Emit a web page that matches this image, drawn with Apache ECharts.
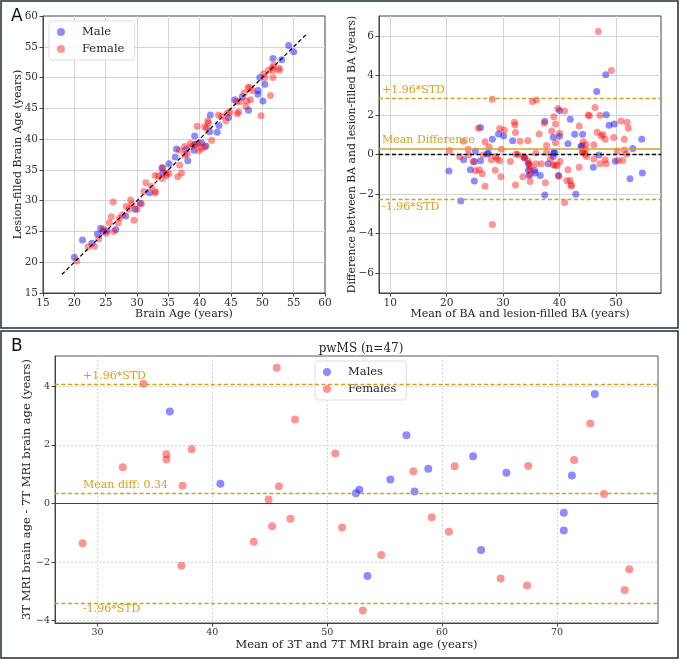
<!DOCTYPE html>
<html>
<head>
<meta charset="utf-8">
<script src="https://cdn.jsdelivr.net/npm/echarts@6/dist/echarts.min.js"></script>
<style>
  html, body { margin: 0; padding: 0; background: #fff; }
  #chart { width: 680px; height: 660px; }
</style>
</head>
<body>
<div id="chart"></div>
<script>
// ---- panel A (left): brain age vs lesion-filled brain age ----
const maleBA = [20.0, 21.3, 22.8, 23.7, 24.2, 24.6, 25.2, 26.6, 28.2, 29.7, 30.5, 32.0, 34.1, 34.0, 35.1, 36.1, 36.3, 37.8, 38.1, 39.2, 39.2, 39.1, 40.3, 41.0, 41.6, 41.7, 42.8, 43.1, 44.6, 45.6, 46.8, 47.8, 49.3, 49.3, 49.6, 50.1, 50.4, 51.7, 53.1, 54.2, 55.0];
const maleLF = [20.8, 23.6, 23.1, 24.6, 25.5, 25.0, 25.1, 25.3, 27.5, 28.6, 29.6, 31.3, 34.5, 35.3, 36.0, 37.1, 38.4, 38.3, 36.5, 40.5, 39.1, 38.2, 39.4, 38.9, 41.2, 43.9, 41.1, 42.2, 43.5, 46.4, 46.9, 44.7, 47.9, 47.3, 50.0, 46.2, 48.9, 53.1, 52.9, 55.2, 54.2];
const femaleBA = [20.4, 22.2, 23.2, 23.9, 24.6, 25.1, 25.6, 25.9, 26.2, 26.3, 27.0, 27.2, 27.7, 28.3, 28.7, 29.0, 29.2, 29.5, 30.0, 30.7, 31.1, 31.4, 32.3, 32.9, 32.9, 32.9, 33.4, 34.0, 34.1, 34.6, 35.1, 34.7, 36.5, 37.1, 36.8, 36.8, 37.6, 37.6, 38.0, 38.5, 38.7, 39.3, 39.6, 39.8, 39.9, 40.3, 40.8, 40.8, 41.1, 41.3, 41.4, 41.9, 43.0, 43.5, 44.2, 44.4, 44.8, 46.0, 46.2, 45.9, 46.5, 47.1, 47.5, 47.4, 47.7, 48.0, 48.1, 48.4, 49.8, 50.2, 50.4, 51.0, 51.3, 51.6, 51.7, 51.8, 51.7, 52.7, 52.7];
const femaleLF = [20.2, 22.5, 22.6, 23.8, 25.4, 24.7, 26.4, 27.4, 29.8, 25.0, 26.4, 27.2, 27.7, 29.1, 28.6, 30.1, 29.4, 26.8, 28.6, 29.5, 31.5, 32.9, 32.3, 31.3, 31.5, 34.1, 34.0, 33.6, 35.4, 34.5, 34.4, 34.1, 33.9, 34.5, 35.8, 38.2, 37.4, 38.8, 37.6, 39.3, 38.8, 39.2, 42.1, 39.3, 38.1, 38.5, 38.7, 42.0, 41.8, 43.0, 42.6, 39.8, 43.9, 43.7, 43.0, 44.2, 44.4, 44.1, 44.4, 46.1, 46.1, 47.5, 46.2, 45.3, 48.4, 48.4, 46.4, 47.9, 43.8, 50.6, 50.0, 51.2, 47.1, 51.6, 51.2, 52.0, 50.0, 51.5, 51.2];
const identityLine = [[18, 18], [57, 57]];

// ---- panel A (right): Bland-Altman ----
const maleMean = [46.6, 48.2, 48.3, 48.8, 49.7, 54.6, 53.0, 52.5, 54.7, 49.9, 47.0, 46.0, 44.0, 44.1, 42.7, 41.9, 41.5, 40.0, 40.0, 38.9, 39.1, 39.0, 38.9, 38.0, 39.8, 37.4, 42.9, 36.6, 35.6, 35.7, 34.5, 34.5, 34.6, 33.8, 31.7, 30.1, 29.2, 28.1, 26.0, 26.0, 25.1, 24.9, 24.9, 24.2, 23.0, 22.5, 20.4, 27.2, 27.4, 37.4, 43.8];
const maleDiff = [3.19, 4.03, 2.01, 1.48, 1.54, 0.77, 0.30, -1.22, -0.93, -0.34, -0.03, -0.64, 0.44, 1.02, 1.02, 1.78, 0.54, 2.23, 0.92, 0.87, 0.12, 0.07, -0.10, -0.47, -1.06, -2.05, -2.01, -1.06, -0.80, -0.94, -0.47, -0.80, -1.06, -0.17, 0.70, 0.94, 1.04, 0.77, 1.36, -0.32, 0.18, -0.35, -1.34, -0.77, -0.27, -2.35, -0.84, 0.03, 0.07, 1.68, 0.40];
const femaleMean = [46.9, 49.2, 28.1, 35.2, 35.9, 46.3, 39.7, 40.9, 45.1, 45.3, 47.2, 37.3, 25.6, 29.4, 30.2, 32.0, 32.1, 38.6, 39.0, 39.3, 32.2, 36.4, 40.0, 43.5, 46.7, 47.4, 47.7, 48.1, 49.6, 50.9, 52.0, 52.2, 51.5, 23.0, 26.8, 27.5, 23.8, 20.5, 29.7, 33.0, 34.4, 39.3, 37.7, 44.2, 44.7, 44.6, 44.1, 46.1, 50.2, 51.5, 51.9, 51.2, 50.4, 47.2, 48.1, 48.3, 46.1, 22.3, 23.9, 24.7, 25.1, 25.8, 26.3, 26.8, 26.5, 27.9, 28.6, 28.7, 28.9, 29.4, 29.6, 28.1, 31.3, 32.2, 32.3, 32.6, 33.6, 33.8, 33.5, 34.4, 34.6, 34.8, 34.8, 34.8, 34.8, 35.8, 35.8, 36.8, 37.5, 37.7, 38.4, 38.9, 39.2, 39.6, 39.9, 40.1, 40.9, 41.5, 41.3, 41.9, 42.1, 42.1, 43.5, 44.1, 44.5, 44.8];
const femaleDiff = [6.22, 4.24, 2.79, 2.68, 2.75, 2.38, 2.32, 2.20, 2.00, 1.96, 1.98, 1.58, 1.33, 1.31, 1.24, 1.63, 1.49, 1.19, 1.91, 1.54, 1.11, 1.04, 1.07, 1.44, 1.12, 0.94, 1.01, 0.77, 0.86, 1.69, 1.63, 1.33, 0.77, 0.67, 0.65, 0.39, 0.27, 0.20, 0.27, 0.67, 0.70, 0.60, 0.45, 0.65, 0.49, 0.23, 0.15, 0.49, 0.18, 0.23, 0.03, -0.30, -0.30, -0.47, -0.27, -0.47, -0.23, -0.12, -0.02, -0.37, -0.82, -0.77, -0.97, -1.60, -0.03, -0.27, -0.80, -0.10, -0.23, -0.32, -1.12, -3.54, -0.35, -1.54, 0.03, 0.00, -0.10, -0.15, -1.12, -0.32, -0.47, -0.60, -0.77, -1.00, -1.36, 0.07, -0.47, -0.47, -1.43, 0.10, -0.23, -0.52, -0.55, -0.55, -1.10, -0.35, -2.42, -0.77, -1.33, -1.31, -1.53, -1.60, -0.65, 0.13, 0.02, -0.10];
const meanDiffA = 0.28;
const upperA = 2.84;
const lowerA = -2.28;

// ---- panel B: pwMS 3T vs 7T ----
const pwMaleMean = [36.3, 40.7, 52.5, 52.8, 55.5, 56.9, 57.6, 58.8, 62.7, 65.6, 71.3, 73.3, 53.5, 63.4, 70.6, 70.6];
const pwMaleDiff = [3.14, 0.67, 0.35, 0.47, 0.82, 2.33, 0.41, 1.18, 1.61, 1.05, 0.95, 3.73, -2.48, -1.59, -0.32, -0.92];
const pwFemaleMean = [28.7, 32.2, 34.0, 36.0, 36.0, 37.4, 37.3, 38.2, 43.6, 44.9, 45.2, 45.6, 45.8, 46.8, 47.2, 50.7, 51.3, 57.5, 61.1, 67.5, 71.5, 72.9, 74.1, 59.1, 60.6, 54.7, 53.1, 65.1, 67.4, 76.3, 75.9];
const pwFemaleDiff = [-1.36, 1.23, 4.08, 1.68, 1.50, 0.60, -2.13, 1.85, -1.31, 0.13, -0.78, 4.63, 0.59, -0.52, 2.86, 1.70, -0.82, 1.10, 1.27, 1.28, 1.48, 2.73, 0.32, -0.47, -0.97, -1.76, -3.65, -2.56, -2.80, -2.25, -2.95];
const meanDiffB = 0.34;
const upperB = 4.07;
const lowerB = -3.39;

const SERIF = 'DejaVu Serif';
const GOLD = '#d4a020';
const BLUE = '#0000ff';
const RED = '#ff0000';

const zip = (xs, ys) => xs.map((x, i) => [x, ys[i]]);
const minus = v => String(v).replace('-', '\u2212');

function makeAxis(gridIndex, opts) {
  return {
    type: 'value',
    gridIndex,
    min: opts.min,
    max: opts.max,
    interval: opts.interval,
    splitNumber: opts.splitNumber,
    name: opts.name,
    nameLocation: 'middle',
    nameGap: opts.nameGap,
    nameMoveOverlap: false,
    nameTextStyle: { fontFamily: SERIF, fontSize: opts.nameSize || 11, color: '#222' },
    axisLine: { show: true, onZero: false, lineStyle: { color: '#444', width: 1 } },
    axisTick: { show: true, length: 3.5, lineStyle: { color: '#444' } },
    axisLabel: {
      fontFamily: SERIF, fontSize: opts.labelSize || 10.5, color: '#333', margin: 5,
      showMinLabel: opts.showEnds, showMaxLabel: opts.showEnds,
      formatter: minus
    },
    splitLine: {
      show: true, showMinLine: false, showMaxLine: false,
      lineStyle: { color: '#d4d4d4', width: 1, type: opts.dotted ? [2, 2] : 'solid' }
    }
  };
}

function scatter(name, xi, data, color, size, opacity) {
  return {
    name, type: 'scatter', xAxisIndex: xi, yAxisIndex: xi,
    data, symbolSize: size,
    itemStyle: { color, opacity },
    emphasis: { disabled: true }
  };
}

function limitLine(value, style, labelText, pos, dist) {
  return {
    yAxis: value,
    lineStyle: style,
    label: labelText ? {
      show: true, formatter: labelText, position: pos, distance: dist,
      color: GOLD, fontFamily: SERIF, fontSize: 11
    } : { show: false }
  };
}

const chart = echarts.init(document.getElementById('chart'));

const goldDash = { color: GOLD, type: [4, 2.5], width: 1.4 };

const legendStyle = {
  orient: 'vertical', icon: 'circle', itemWidth: 20, itemHeight: 8, itemGap: 5,
  padding: [5, 10, 5, 8],
  borderColor: '#ddd', borderWidth: 1, borderRadius: 3, backgroundColor: 'rgba(255,255,255,0.85)',
  textStyle: { fontFamily: SERIF, fontSize: 11.5, color: '#222', padding: [0, 0, 0, 6] },
  selectedMode: false
};

chart.setOption({
  animation: false,
  backgroundColor: '#fff',
  textStyle: { fontFamily: SERIF },
  title: {
    text: 'pwMS (n=47)', left: 356, top: 338, textAlign: 'center',
    textStyle: { fontFamily: SERIF, fontSize: 12, fontWeight: 'normal', color: '#222' }
  },
  legend: [
    Object.assign({ data: ['Male', 'Female'], left: 49, top: 21 }, legendStyle),
    Object.assign({ data: ['Males', 'Females'], left: 315, top: 361 }, legendStyle)
  ],
  grid: [
    { left: 43, top: 16, width: 282, height: 277, show: true, borderColor: '#444', borderWidth: 1, outerBoundsMode: 'none' },
    { left: 379, top: 16, width: 282, height: 277, show: true, borderColor: '#444', borderWidth: 1, outerBoundsMode: 'none' },
    { left: 55, top: 356, width: 603, height: 267, show: true, borderColor: '#555', borderWidth: 1, outerBoundsMode: 'none' }
  ],
  xAxis: [
    makeAxis(0, { min: 15, max: 60, interval: 5, name: 'Brain Age (years)', nameGap: 16, showEnds: true }),
    makeAxis(1, { min: 8, max: 58, splitNumber: 5, name: 'Mean of BA and lesion-filled BA (years)', nameGap: 16, showEnds: false }),
    makeAxis(2, { min: 26.3, max: 78.8, splitNumber: 5, name: 'Mean of 3T and 7T MRI brain age (years)', nameGap: 16, showEnds: false, dotted: true, labelSize: 9.5, nameSize: 11.5 })
  ],
  yAxis: [
    makeAxis(0, { min: 15, max: 60, interval: 5, name: 'Lesion-filled Brain Age (years)', nameGap: 19, showEnds: true }),
    makeAxis(1, { min: -7, max: 7, splitNumber: 7, name: 'Difference between BA and lesion-filled BA (years)', nameGap: 21, showEnds: false, nameSize: 10.8 }),
    makeAxis(2, { min: -4.08, max: 5.03, splitNumber: 5, name: '3T MRI brain age - 7T MRI brain age (years)', nameGap: 22, showEnds: false, dotted: true, labelSize: 9.5, nameSize: 11.5 })
  ],
  series: [
    scatter('Male', 0, zip(maleBA, maleLF), BLUE, 7, 0.45),
    scatter('Female', 0, zip(femaleBA, femaleLF), RED, 7, 0.42),
    {
      type: 'line', xAxisIndex: 0, yAxisIndex: 0, data: identityLine,
      symbol: 'none', silent: true,
      lineStyle: { color: '#000', width: 1.2, type: [4, 2.5] }
    },
    scatter('Male', 1, zip(maleMean, maleDiff), BLUE, 7, 0.45),
    Object.assign(scatter('Female', 1, zip(femaleMean, femaleDiff), RED, 7, 0.42), {
      markLine: {
        symbol: 'none', silent: true, animation: false,
        data: [
          limitLine(0, { color: '#000', type: [4, 2.5], width: 1.3 }, null),
          limitLine(meanDiffA, { color: GOLD, type: 'solid', width: 1.6 }, 'Mean Difference', 'insideStartTop', [3, 3]),
          limitLine(upperA, goldDash, '+1.96*STD', 'insideStartTop', [3, 3]),
          limitLine(lowerA, goldDash, '-1.96*STD', 'insideStartBottom', [3, 2])
        ]
      }
    }),
    scatter('Males', 2, zip(pwMaleMean, pwMaleDiff), BLUE, 8, 0.45),
    Object.assign(scatter('Females', 2, zip(pwFemaleMean, pwFemaleDiff), RED, 8, 0.42), {
      markLine: {
        symbol: 'none', silent: true, animation: false,
        data: [
          limitLine(0, { color: '#444', type: 'solid', width: 1 }, null),
          limitLine(meanDiffB, goldDash, 'Mean diff: 0.34', 'insideStartTop', [28, 3]),
          limitLine(upperB, goldDash, '+1.96*STD', 'insideStartTop', [28, 2]),
          limitLine(lowerB, goldDash, '-1.96*STD', 'insideStartBottom', [28, 1])
        ]
      }
    })
  ],
  graphic: [
    { type: 'rect', shape: { x: 1, y: 1, width: 677, height: 327 }, style: { fill: 'none', stroke: '#1f2c3c', lineWidth: 1.5 }, silent: true },
    { type: 'rect', shape: { x: 1, y: 331, width: 677, height: 327 }, style: { fill: 'none', stroke: '#1f2c3c', lineWidth: 1.5 }, silent: true },
    { type: 'text', left: 11, top: 8, style: { text: 'A', font: '17px "DejaVu Sans"', fill: '#111' } },
    { type: 'text', left: 11, top: 338, style: { text: 'B', font: '17px "DejaVu Sans"', fill: '#111' } }
  ]
});
</script>
</body>
</html>
